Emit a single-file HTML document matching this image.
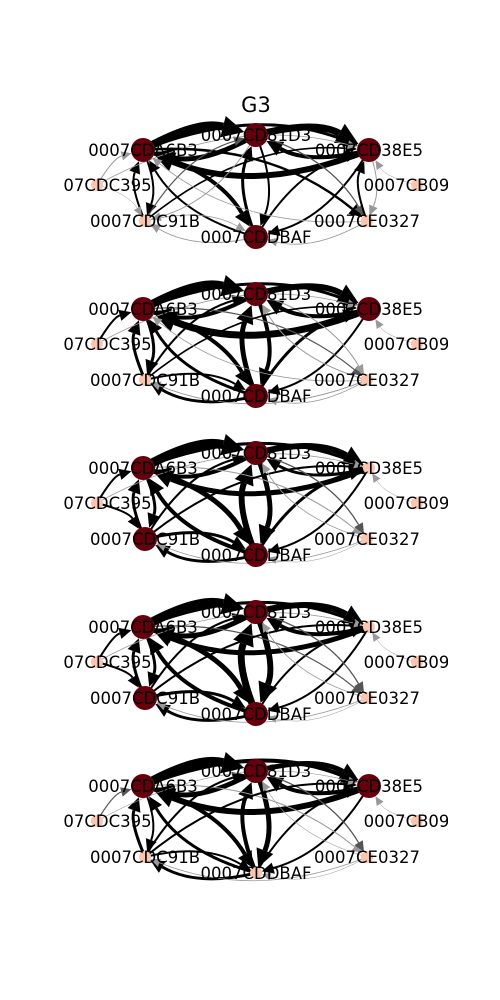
<!DOCTYPE html>
<html><head><meta charset="utf-8"><style>
body{margin:0;background:#fff}
svg{display:block}
text{font-family:"DejaVu Sans","Liberation Sans",sans-serif}
</style></head><body>
<svg id="chart" width="500" height="1000" viewBox="0 0 500 1000">
<defs><clipPath id="clip"><rect x="63" y="0" width="385" height="1000"/></clipPath></defs>
<text x="256" y="112" font-size="21" text-anchor="middle">G3</text>
<g id="panels" clip-path="url(#clip)"></g>
</svg>
<script>
const nodeLabels = ["0007CDA6B3","0007CD81D3","0007CD38E5","0007CB0945","0007CE0327","0007CDDBAF","0007CDC91B","0007CDC395"];
const nodeX = [143,256,369,417,367,256,145,97];
const nodeY = [150,135,150,185,221,237,221,185];
const panelOffsets = [0,159,318,477,636];
const darkNodes = [
 [1,1,1,0,0,1,0,0],
 [1,1,1,0,0,1,0,0],
 [1,1,0,0,0,1,1,0],
 [1,1,0,0,0,1,1,0],
 [1,1,1,0,0,0,0,0]
];
const edges1 = [[0,1,8],[1,0,5],[1,2,7],[2,1,4],[2,0,6],[0,2,3],[0,5,4],[5,0,2],[1,5,2],[5,1,3],[2,5,2],[5,2,2],[0,4,2.5],[1,4,1.2],[2,4,1],[4,2,2],[6,0,2],[0,6,2],[6,1,1.2],[6,2,1.6],[1,6,1],[7,0,1],[7,2,0.8],[4,5,0.8],[5,6,1],[6,5,0.8],[7,6,0.5],[3,2,0.5],[4,0,0.8]];
const edges2 = [[0,1,8],[1,0,4],[1,2,6],[2,1,4],[2,0,7],[0,2,3],[0,5,4],[5,0,3],[1,5,4],[5,1,5],[2,5,2],[5,2,3],[0,4,1.2],[1,4,1],[4,1,1],[6,0,3],[0,6,3],[6,1,2],[6,2,1.6],[5,6,3],[6,5,2],[7,0,2],[7,2,0.8],[4,5,0.8],[4,6,1],[3,2,0.5],[4,0,0.8]];
const edges3 = [[0,1,9],[1,0,4],[1,2,6],[2,1,3],[2,0,5],[0,2,3],[0,5,5],[5,0,4],[1,5,5],[5,1,6],[2,5,2],[5,2,3],[0,4,1],[1,4,1.3],[6,0,3],[0,6,3],[6,1,2],[6,2,2],[5,6,3],[6,5,3],[7,0,2],[7,6,2],[7,2,0.8],[4,5,0.5],[4,6,0.8],[3,2,0.5],[4,1,0.8]];
const edges4 = [[0,1,9],[1,0,5],[1,2,6],[2,1,4],[2,0,5],[0,2,3],[0,5,5],[5,0,4],[1,5,6],[5,1,7],[2,5,2],[5,2,2],[0,4,1.2],[1,4,1.3],[6,0,3],[0,6,3],[6,1,2],[6,2,2],[5,6,3],[6,5,3],[7,0,2],[7,6,2],[7,2,0.8],[4,5,0.5],[4,6,0.8],[3,2,0.5],[4,1,0.8]];
const edges5 = [[0,1,9],[1,0,5],[1,2,5],[2,1,4],[2,0,6],[0,2,4],[0,5,4],[5,0,3],[1,5,5],[5,1,4],[2,5,2],[5,2,2],[0,4,1],[1,4,1.3],[6,0,3],[0,6,2],[6,1,2],[6,2,2],[5,6,3],[6,5,2],[7,0,1.2],[7,2,0.6],[4,5,0.5],[4,6,0.8],[3,2,0.5],[4,1,0.6]];
const panelEdges = [edges1,edges2,edges3,edges4,edges5];

const NS="http://www.w3.org/2000/svg";
const root=document.getElementById('panels');
function mk(tag,attrs){const e=document.createElementNS(NS,tag);for(const k in attrs)e.setAttribute(k,attrs[k]);return e;}
panelEdges.forEach((edges,p)=>{
  const oy=panelOffsets[p];
  const g=mk('g',{});
  
  
  root.appendChild(g);
  const rad=i=>darkNodes[p][i]?12:6;
  edges.forEach(([s,t,w])=>{
    const x1=nodeX[s],y1=nodeY[s]+oy,x2=nodeX[t],y2=nodeY[t]+oy;
    const dx=x2-x1,dy=y2-y1;
    const cx=(x1+x2)/2+0.2*dy, cy=(y1+y2)/2-0.2*dx;
    let tx=x2-cx,ty=y2-cy;const tl=Math.hypot(tx,ty);tx/=tl;ty/=tl;
    const r=rad(t);
    const ex=x2-tx*r,ey=y2-ty*r;
    const ah=Math.min(8+w*2,22),aw=Math.min(3.5+w*1.1,11);
    const bx=ex-tx*ah,by=ey-ty*ah;
    const col=w<1.1?'#999':(w<1.6?'#555':'#000');
    const path=mk('path',{d:`M${x1},${y1} Q${cx},${cy} ${bx},${by}`,fill:'none',stroke:col,'stroke-width':w*1.0});
    
    
    g.appendChild(path);
    const px=-ty,py=tx;
    const head=mk('polygon',{points:`${ex},${ey} ${bx+px*aw},${by+py*aw} ${bx-px*aw},${by-py*aw}`,fill:col});
    
    
    g.appendChild(head);
  });
  nodeLabels.forEach((lab,i)=>{
    const c=mk('circle',{cx:nodeX[i],cy:nodeY[i]+oy,r:rad(i),fill:darkNodes[p][i]?'#67000d':'#fcc5ae'});
    
    
    g.appendChild(c);
  });
  nodeLabels.forEach((lab,i)=>{
    const tx=mk('text',{x:nodeX[i],y:nodeY[i]+oy+6,'font-size':'16.5','text-anchor':'middle',fill:'#000'});
    tx.textContent=lab;
    
    
    g.appendChild(tx);
  });
});
</script>
</body></html>
